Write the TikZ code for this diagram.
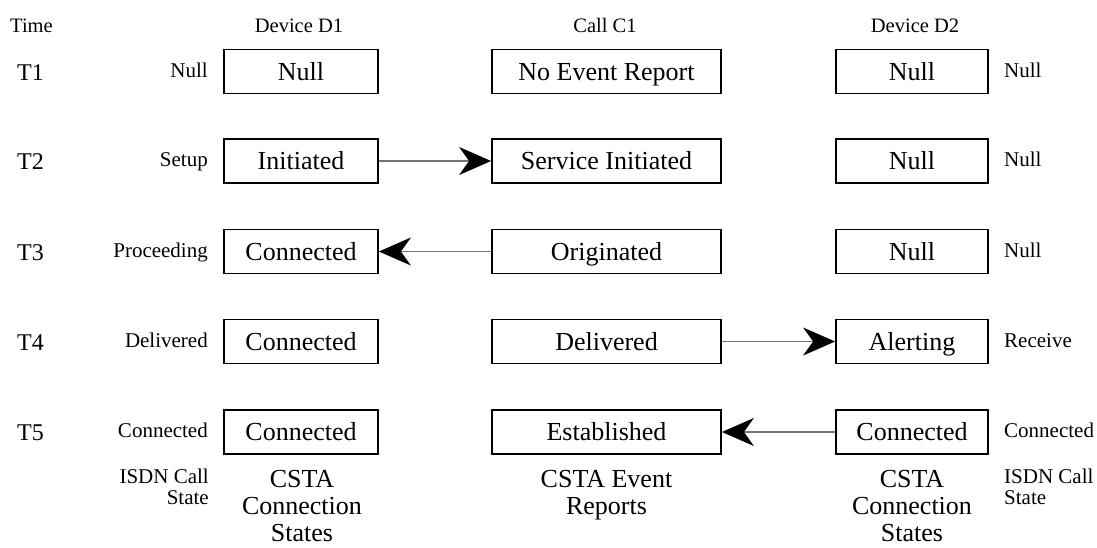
\documentclass[tikz,border=0pt]{standalone}
\usepackage{fontspec}
\setmainfont{Liberation Serif}
\usetikzlibrary{arrows.meta}
\begin{document}
\begin{tikzpicture}[x=1pt,y=-1pt,
  stbox/.style={draw, line width=1.8pt, minimum height=44pt, inner sep=0pt,
    font=\fontsize{26}{28}\selectfont, text height=17pt, text depth=0pt},
  colA/.style={stbox, minimum width=154pt},
  colB/.style={stbox, minimum width=229pt},
  colC/.style={stbox, minimum width=152pt},
  hdr/.style={font=\fontsize{20.5}{22}\selectfont, inner sep=0pt, anchor=base},
  tlab/.style={font=\fontsize{24}{26}\selectfont, inner sep=0pt, anchor=base west},
  lsm/.style={font=\fontsize{21}{22}\selectfont, inner sep=0pt, anchor=base east},
  rsm/.style={font=\fontsize{21}{22}\selectfont, inner sep=0pt, anchor=base west},
  captxt/.style={font=\fontsize{26}{27}\selectfont, inner sep=0pt, anchor=north, align=center},
  isdn/.style={font=\fontsize{21}{21}\selectfont, inner sep=0pt},
  msg/.style={draw=black!55, line width=1.1pt,
    -{Stealth[length=32pt, width=28pt, inset=10pt, color=black]}}
]
\useasboundingbox (0,0) rectangle (1097,547);

% headers
\node[hdr, anchor=base west] (hT) at (10,32) {Time};
\node[hdr] (hD1) at (299,32) {Device D1};
\node[hdr] (hC1) at (605,32) {Call C1};
\node[hdr] (hD2) at (915,32) {Device D2};

% time labels
\node[tlab] (t1) at (17,80) {T1};
\node[tlab] (t2) at (17,169) {T2};
\node[tlab] (t3) at (17,260) {T3};
\node[tlab] (t4) at (17,350) {T4};
\node[tlab] (t5) at (17,440) {T5};

% row 1
\node[colA] (a1) at (301,71.5) {Null};
\node[colB] (b1) at (606.5,71.5) {No Event Report};
\node[colC] (c1) at (912,71.5) {Null};
% row 2
\node[colA] (a2) at (301,161) {Initiated};
\node[colB] (b2) at (606.5,161) {Service Initiated};
\node[colC] (c2) at (912,161) {Null};
% row 3
\node[colA] (a3) at (301,251.5) {Connected};
\node[colB] (b3) at (606.5,251.5) {Originated};
\node[colC] (c3) at (912,251.5) {Null};
% row 4
\node[colA] (a4) at (301,341.5) {Connected};
\node[colB] (b4) at (606.5,341.5) {Delivered};
\node[colC] (c4) at (912,341.5) {Alerting};
% row 5
\node[colA] (a5) at (301,432) {Connected};
\node[colB] (b5) at (606.5,432) {Established};
\node[colC] (c5) at (912,432) {Connected};

% ISDN states left
\node[lsm] (l1) at (208,77) {Null};
\node[lsm] (l2) at (208,166.5) {Setup};
\node[lsm] (l3) at (208,257) {Proceeding};
\node[lsm] (l4) at (208,347) {Delivered};
\node[lsm] (l5) at (208,437.5) {Connected};
% ISDN states right
\node[rsm] (r1) at (1004,77) {Null};
\node[rsm] (r2) at (1004,166.5) {Null};
\node[rsm] (r3) at (1004,257) {Null};
\node[rsm] (r4) at (1004,347) {Receive};
\node[rsm] (r5) at (1004,437.5) {Connected};

% messages
\draw[msg] (a2.east) -- (b2.west);
\draw[msg] (b3.west) -- (a3.east);
\draw[msg] (b4.east) -- (c4.west);
\draw[msg] (c5.west) -- (b5.east);

% bottom captions
\node[isdn, anchor=north east, align=right] (isdnL) at (209,468.5) {ISDN Call\\State};
\node[isdn, anchor=north west, align=left] (isdnR) at (1004,468.5) {ISDN Call\\State};
\node[captxt] (capA) at (302,470) {CSTA\\Connection\\States};
\node[captxt] (capB) at (606.5,470) {CSTA Event\\Reports};
\node[captxt] (capC) at (912,470) {CSTA\\Connection\\States};
\end{tikzpicture}
\end{document}
